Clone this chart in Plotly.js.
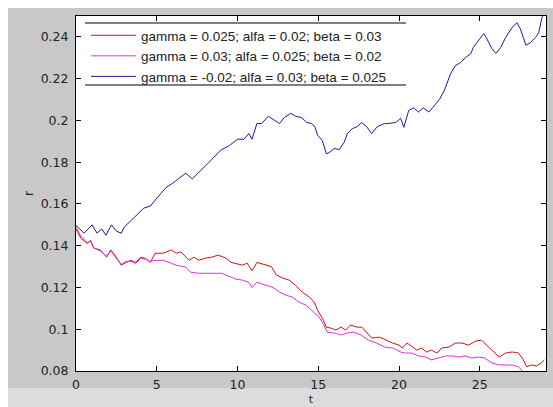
<!DOCTYPE html>
<html>
<head>
<meta charset="utf-8">
<script src="https://cdn.plot.ly/plotly-3.0.1.min.js"></script>
<style>
html,body{margin:0;padding:0;background:#ffffff;}
#chart{width:553px;height:407px;}
</style>
</head>
<body>
<div id="chart"></div>
<script>
// ---- data ----
const seriesNames = [
  "gamma = 0.025; alfa = 0.02; beta = 0.03",
  "gamma = 0.03; alfa = 0.025; beta = 0.02",
  "gamma = -0.02; alfa = 0.03; beta = 0.025"
];

const redX = [0,0.3,0.7,0.9,1.1,1.5,1.9,2.15,2.5,2.8,3.1,3.4,3.7,4.0,4.3,4.6,4.9,5.4,5.9,6.2,6.5,7.0,7.3,7.6,8.0,8.4,8.8,9.3,9.6,9.9,10.3,10.6,10.9,11.2,11.7,12.1,12.4,12.8,13.2,13.6,14.0,14.45,14.75,14.95,15.25,15.5,15.8,16.1,16.4,16.7,17.0,17.4,17.7,18.0,18.3,18.8,19.2,19.6,20.0,20.2,20.5,20.8,21.1,21.4,21.7,22.0,22.35,22.65,23.1,23.5,23.9,24.3,24.75,25.1,25.55,25.9,26.2,26.6,27.0,27.4,27.7,27.9,28.2,28.5,28.8,29.0];
const redY = [0.148,0.1436,0.141,0.1426,0.1388,0.138,0.1345,0.138,0.1345,0.1307,0.132,0.133,0.132,0.1345,0.134,0.132,0.1364,0.1364,0.138,0.1364,0.137,0.133,0.1345,0.133,0.134,0.1345,0.1355,0.134,0.132,0.1316,0.1307,0.1316,0.128,0.132,0.1307,0.130,0.126,0.1245,0.1235,0.121,0.1178,0.1154,0.113,0.1092,0.1053,0.101,0.1005,0.0996,0.101,0.0996,0.102,0.101,0.101,0.0986,0.0958,0.0962,0.0948,0.0934,0.0924,0.091,0.0934,0.0915,0.090,0.091,0.0891,0.090,0.0886,0.091,0.0915,0.0934,0.0934,0.0924,0.0943,0.0948,0.0915,0.0886,0.0867,0.0886,0.0891,0.0886,0.0853,0.082,0.0829,0.0824,0.0838,0.0853];

const magX = [0,0.3,0.7,0.9,1.1,1.5,1.9,2.15,2.5,2.8,3.1,3.4,3.7,4.0,4.3,4.6,4.9,5.4,5.9,6.2,6.8,7.1,7.6,8.1,8.6,9.0,9.6,9.9,10.3,10.7,10.9,11.2,11.8,12.2,12.6,13.0,13.4,13.8,14.25,14.6,15.05,15.35,15.55,16.0,16.4,16.8,17.2,17.65,18.1,18.6,19.1,19.6,20.1,20.4,20.8,21.2,21.65,22.0,22.5,22.9,23.3,23.7,24.1,24.5,24.9,25.3,25.75,26.2,26.6,27.0,27.4,27.7,28.0,28.5,29.0];
const magY = [0.149,0.1445,0.1415,0.142,0.139,0.1375,0.135,0.1375,0.134,0.131,0.1325,0.1325,0.1315,0.134,0.1335,0.1325,0.133,0.133,0.1316,0.1307,0.1297,0.1273,0.1268,0.1268,0.1268,0.1268,0.125,0.124,0.1235,0.1225,0.120,0.1225,0.121,0.120,0.1178,0.1163,0.1154,0.113,0.1115,0.1092,0.1058,0.102,0.0986,0.0982,0.0972,0.0982,0.0986,0.0972,0.0948,0.0934,0.0915,0.091,0.0891,0.0886,0.0886,0.0872,0.0867,0.0853,0.0862,0.0872,0.0872,0.0867,0.0872,0.0862,0.0867,0.0862,0.0838,0.0829,0.0829,0.0829,0.082,0.0795,0.0785,0.0775,0.077];

const blueX = [0,0.5,1,1.3,1.6,1.85,2.2,2.5,2.8,3.0,3.4,3.75,4.2,4.6,4.9,5.25,5.6,6.0,6.5,6.8,7.2,7.6,8.1,8.5,8.95,9.5,10.0,10.4,10.7,10.9,11.2,11.5,11.9,12.3,12.6,12.9,13.3,13.6,13.95,14.3,14.6,14.8,14.95,15.25,15.5,15.7,16.0,16.3,16.6,16.8,17.1,17.4,17.7,18.0,18.3,18.65,19.1,19.3,19.8,20.1,20.3,20.6,20.9,21.2,21.5,21.85,22.15,22.5,22.8,22.95,23.2,23.5,23.8,24.1,24.45,24.6,24.9,25.25,25.4,25.75,26.0,26.3,26.6,27.0,27.3,27.5,27.7,27.85,28.1,28.45,28.65,28.85,29.0];
const blueY = [0.1497,0.146,0.150,0.146,0.148,0.145,0.150,0.147,0.146,0.149,0.152,0.1546,0.158,0.159,0.162,0.165,0.168,0.170,0.173,0.1747,0.172,0.175,0.179,0.182,0.1857,0.188,0.191,0.191,0.1937,0.191,0.1985,0.1985,0.202,0.200,0.1985,0.2014,0.2034,0.202,0.2014,0.199,0.1985,0.1967,0.193,0.1904,0.184,0.1847,0.1866,0.186,0.1895,0.1937,0.196,0.197,0.199,0.197,0.1937,0.197,0.1985,0.1985,0.199,0.201,0.1967,0.2048,0.206,0.204,0.206,0.204,0.207,0.210,0.2143,0.2177,0.2225,0.2263,0.2277,0.230,0.232,0.235,0.238,0.2416,0.2397,0.2344,0.232,0.235,0.2397,0.2445,0.2468,0.244,0.2397,0.236,0.237,0.2397,0.242,0.2493,0.252];

const xTicks = [0,5,10,15,20,25];
const yTicks = [0.08,0.1,0.12,0.14,0.16,0.18,0.2,0.22,0.24];
const xLabel = "t";
const yLabel = "r";

// ---- chart ----
const FONT = "DejaVu Sans, Liberation Sans, Arial, sans-serif";
const LFONT = "Liberation Sans, Arial, sans-serif";
const traces = [
  {x: redX, y: redY, name: seriesNames[0], mode: "lines", line: {color: "#cc1414", width: 1}},
  {x: magX, y: magY, name: seriesNames[1], mode: "lines", line: {color: "#dd30dd", width: 1}},
  {x: blueX, y: blueY, name: seriesNames[2], mode: "lines", line: {color: "#1c1c9c", width: 1}}
];

const W = 553, H = 407, L = 76, R = 7, T = 16, B = 36;
const pw = W - L - R, ph = H - T - B;
const px = v => (v - L) / pw;          // pixel -> paper x
const py = v => (H - B - v) / ph;      // pixel -> paper y

const layout = {
  width: W, height: H,
  margin: {l: L, r: R, t: T, b: B, pad: 0},
  paper_bgcolor: "#c8c8c8",
  plot_bgcolor: "#ffffff",
  font: {family: FONT, size: 11, color: "#222222"},
  showlegend: true,
  legend: {
    x: px(86), y: py(20), xanchor: "left", yanchor: "top",
    bgcolor: "rgba(255,255,255,0)", borderwidth: 0,
    font: {family: LFONT, size: 13.5, color: "#222222"},
    itemwidth: 45
  },
  xaxis: {
    range: [0, 29.1], tickvals: xTicks, ticks: "inside", ticklen: 5, tickcolor: "#000",
    showline: true, linecolor: "#000", linewidth: 1, mirror: "ticks",
    showgrid: false, zeroline: false, ticklabelstandoff: 2,
    tickfont: {family: FONT, size: 12.5, color: "#222"},
    title: {text: xLabel, font: {family: FONT, size: 11, color: "#222"}, standoff: 4}
  },
  yaxis: {
    range: [0.08, 0.25], tickvals: yTicks, ticks: "inside", ticklen: 5, tickcolor: "#000",
    showline: true, linecolor: "#000", linewidth: 1, mirror: "ticks",
    showgrid: false, zeroline: false, ticklabelstandoff: 4,
    tickfont: {family: FONT, size: 12.5, color: "#222"},
    title: {text: yLabel, font: {family: FONT, size: 12, color: "#222"}, standoff: 4}
  },
  shapes: [
    // white strips at top and left of the window
    {type: "rect", xref: "paper", yref: "paper", x0: px(0), x1: px(W), y0: py(8), y1: py(0), fillcolor: "#ffffff", line: {width: 0}, layer: "below"},
    {type: "rect", xref: "paper", yref: "paper", x0: px(0), x1: px(8), y0: py(H), y1: py(0), fillcolor: "#ffffff", line: {width: 0}, layer: "below"},
    // lighter band at the bottom
    {type: "rect", xref: "paper", yref: "paper", x0: px(8), x1: px(W), y0: py(H), y1: py(388), fillcolor: "#dcdcdc", line: {width: 0}, layer: "below"},
    // legend box top and bottom rules
    {type: "line", xref: "paper", yref: "paper", x0: px(85), x1: px(406), y0: py(23), y1: py(23), line: {color: "#000", width: 1}},
    {type: "line", xref: "paper", yref: "paper", x0: px(85), x1: px(406), y0: py(85), y1: py(85), line: {color: "#000", width: 1}}
  ]
};

Plotly.newPlot("chart", traces, layout, {displayModeBar: false, staticPlot: true});
</script>
</body>
</html>
